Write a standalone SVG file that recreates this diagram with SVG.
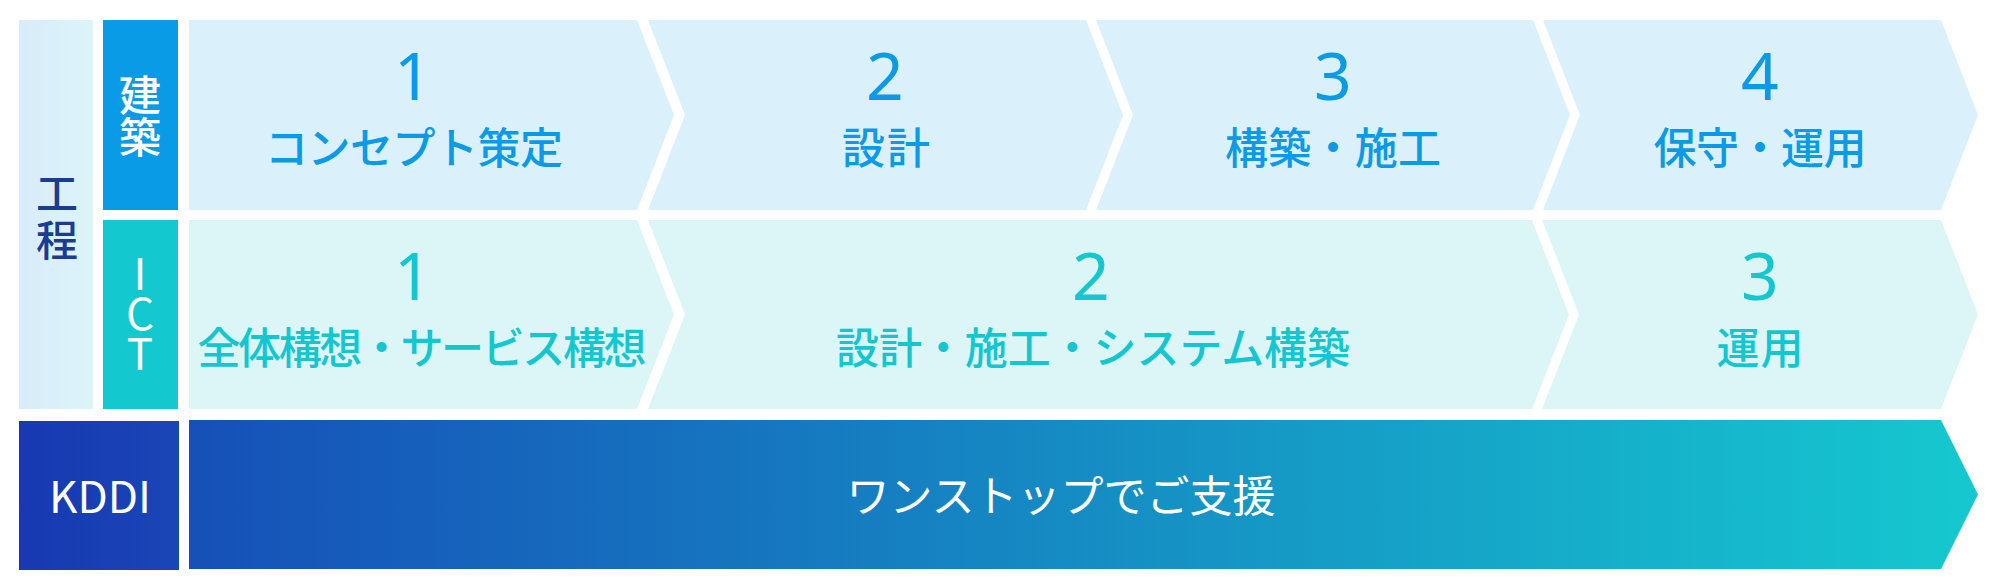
<svg xmlns="http://www.w3.org/2000/svg" width="2000" height="588" viewBox="0 0 2000 588">
<defs>
<linearGradient id="gCol" x1="0" y1="0" x2="1" y2="0"><stop offset="0" stop-color="#d8ebfa"/><stop offset="1" stop-color="#dcf5f8"/></linearGradient>
<linearGradient id="gKddiBox" x1="0" y1="0" x2="1" y2="0"><stop offset="0" stop-color="#1739b1"/><stop offset="1" stop-color="#1a45b7"/></linearGradient>
<linearGradient id="gArrow" gradientUnits="userSpaceOnUse" x1="189" y1="0" x2="1978" y2="0"><stop offset="0" stop-color="#1650b8"/><stop offset="1" stop-color="#15c8cf"/></linearGradient>
<style>
.kenchiku{fill:#daf0fa}
.ict{fill:#dcf6f7}
.num{font-family:"Noto Sans","Open Sans",sans-serif;font-size:66px;text-anchor:middle}
.lbl{font-family:"Noto Sans CJK JP","Noto Sans",sans-serif;font-size:43px;font-weight:500;text-anchor:middle}
.blue{fill:#0a9ae6}
.cyan{fill:#14c6cf}
.vt{font-family:"Noto Sans CJK JP","Noto Sans",sans-serif;font-size:42px;font-weight:500;text-anchor:middle;fill:#ffffff}
.lat{font-family:"Noto Sans CJK JP","Noto Sans",sans-serif;font-size:44px;text-anchor:middle;fill:#ffffff}
</style>
</defs>
<rect width="2000" height="588" fill="#ffffff"/>

<g id="koutei">
<rect x="19" y="20" width="74" height="389" fill="url(#gCol)"/>
<text class="vt" style="fill:#1a3c93"><tspan x="57" y="209">工</tspan><tspan x="57" y="256">程</tspan></text>
</g>

<g id="kenchiku-label">
<rect x="103" y="20" width="75" height="190" fill="#0a9be6"/>
<text class="vt"><tspan x="140" y="111">建</tspan><tspan x="140" y="153">築</tspan></text>
</g>

<g id="ict-label">
<rect x="103" y="220" width="75" height="189" fill="#14c8d0"/>
<text class="lat"><tspan x="140" y="290">I</tspan><tspan x="140" y="330">C</tspan><tspan x="140" y="370">T</tspan></text>
</g>

<g id="k1">
<polygon class="kenchiku" points="189,20 637,20 674,115 637,210 189,210"/>
<text x="413" y="100" class="num blue">1</text>
<text x="414" y="164" class="lbl blue" textLength="298" lengthAdjust="spacing">コンセプト策定</text>
</g>
<g id="k2">
<polygon class="kenchiku" points="648,20 1086,20 1123,115 1086,210 648,210 685,115"/>
<text x="885" y="100" class="num blue">2</text>
<text x="886" y="164" class="lbl blue" textLength="88" lengthAdjust="spacing">設計</text>
</g>
<g id="k3">
<polygon class="kenchiku" points="1096,20 1533,20 1570,115 1533,210 1096,210 1133,115"/>
<text x="1333" y="100" class="num blue">3</text>
<text x="1333" y="164" class="lbl blue" textLength="216" lengthAdjust="spacing">構築・施工</text>
</g>
<g id="k4">
<polygon class="kenchiku" points="1543,20 1941,20 1978,115 1941,210 1543,210 1580,115"/>
<text x="1760" y="100" class="num blue">4</text>
<text x="1760" y="164" class="lbl blue" textLength="213" lengthAdjust="spacing">保守・運用</text>
</g>

<g id="i1">
<polygon class="ict" points="189,220 637,220 674,314.5 637,409 189,409"/>
<text x="413" y="300" class="num cyan">1</text>
<text x="422" y="364" class="lbl cyan" textLength="449" lengthAdjust="spacing">全体構想・サービス構想</text>
</g>
<g id="i2">
<polygon class="ict" points="648,220 1532,220 1569,314.5 1532,409 648,409 685,314.5"/>
<text x="1091" y="300" class="num cyan">2</text>
<text x="1093" y="364" class="lbl cyan" textLength="514" lengthAdjust="spacing">設計・施工・システム構築</text>
</g>
<g id="i3">
<polygon class="ict" points="1542,220 1941,220 1978,314.5 1941,409 1542,409 1579,314.5"/>
<text x="1760" y="300" class="num cyan">3</text>
<text x="1760" y="364" class="lbl cyan" textLength="87" lengthAdjust="spacing">運用</text>
</g>

<g id="kddi-label">
<rect x="19" y="421" width="160" height="149" fill="url(#gKddiBox)"/>
<text x="100" y="513" class="lat">KDDI</text>
</g>

<g id="kddi-arrow">
<polygon points="189,420 1941,420 1978,494.5 1941,569 189,569" fill="url(#gArrow)"/>
<text x="1061" y="512" class="lat" style="font-size:43px">ワンストップでご支援</text>
</g>
</svg>
